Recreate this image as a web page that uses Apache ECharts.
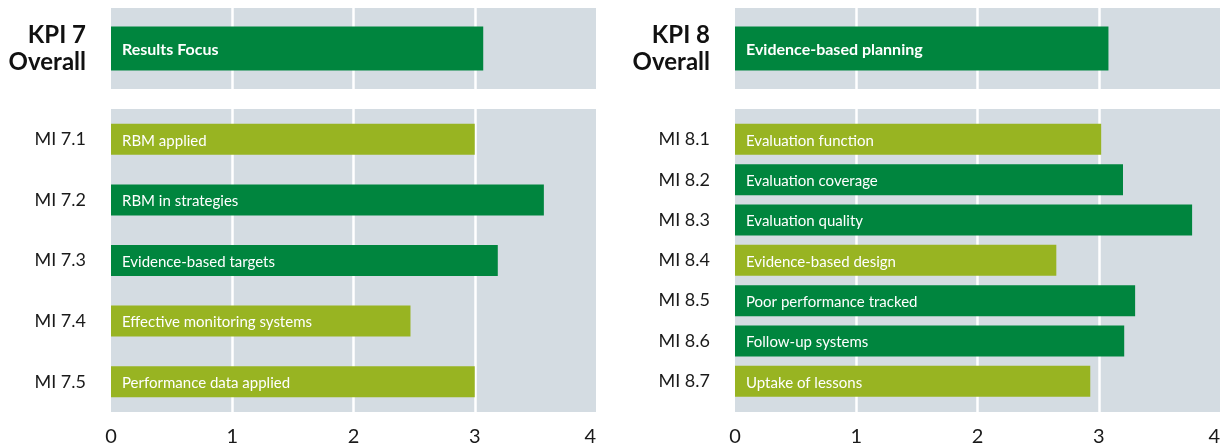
<!DOCTYPE html>
<html>
<head>
<meta charset="utf-8">
<script src="https://cdn.jsdelivr.net/npm/echarts@6/dist/echarts.min.js"></script>
<style>
html,body{margin:0;padding:0;background:#fff;}
#chart{width:1228px;height:448px;}
</style>
</head>
<body>
<div id="chart"></div>
<script>
// ---- data ----
const xTickValues = [0, 1, 2, 3, 4];

const kpi7Category = ['KPI 7\nOverall'];
const kpi7Label = ['Results Focus'];
const kpi7Value = [3.07];

const mi7Category = ['MI 7.1', 'MI 7.2', 'MI 7.3', 'MI 7.4', 'MI 7.5'];
const mi7Label = ['RBM applied', 'RBM in strategies', 'Evidence-based targets', 'Effective monitoring systems', 'Performance data applied'];
const mi7Value = [3.0, 3.57, 3.19, 2.47, 3.0];
const mi7Strong = [false, true, true, false, false];

const kpi8Category = ['KPI 8\nOverall'];
const kpi8Label = ['Evidence-based planning'];
const kpi8Value = [3.08];

const mi8Category = ['MI 8.1', 'MI 8.2', 'MI 8.3', 'MI 8.4', 'MI 8.5', 'MI 8.6', 'MI 8.7'];
const mi8Label = ['Evaluation function', 'Evaluation coverage', 'Evaluation quality', 'Evidence-based design', 'Poor performance tracked', 'Follow-up systems', 'Uptake of lessons'];
const mi8Value = [3.02, 3.20, 3.77, 2.65, 3.30, 3.21, 2.93];
const mi8Strong = [false, true, true, false, true, true, false];

// ---- styles ----
const GREY = '#d4dce2';
const DARK = '#00853e';
const LIGHT = '#98b422';
const FONT = 'Lato, "Liberation Sans", sans-serif';
const TEXT = '#1a1a1a';

const xMin = xTickValues[0], xMax = xTickValues[xTickValues.length - 1];

function xAxis(gridIndex, showLabels, showSplit) {
  return {
    type: 'value', gridIndex, min: xMin, max: xMax, interval: 1,
    axisLine: {show: false}, axisTick: {show: false},
    axisLabel: {show: showLabels, fontSize: 20, color: TEXT, fontFamily: FONT, margin: 15, alignMaxLabel: 'right'},
    splitLine: {show: showSplit, showMinLine: false, showMaxLine: false, lineStyle: {color: '#ffffff', width: 2.5}}
  };
}
function catAxis(gridIndex, data, kpi) {
  return {
    type: 'category', gridIndex, data, inverse: true,
    axisLine: {show: false}, axisTick: {show: false}, splitLine: {show: false},
    axisLabel: kpi
      ? {fontSize: 24, fontWeight: 'bold', lineHeight: 27, color: '#111', fontFamily: FONT, margin: 25, align: 'right', padding: [4, 0, 0, 0]}
      : {fontSize: 18, color: TEXT, fontFamily: FONT, margin: 25, align: 'right', padding: [5, 0, 0, 0]}
  };
}
function barSeries(xi, yi, values, labels, strong, barWidth, kpi) {
  return {
    type: 'bar', xAxisIndex: xi, yAxisIndex: yi, data: values, barWidth,
    itemStyle: {color: p => (strong ? (strong[p.dataIndex] ? DARK : LIGHT) : DARK)},
    label: {
      show: true, position: 'insideLeft', distance: 11, color: '#fff', fontFamily: FONT,
      fontSize: kpi ? 16 : 15, fontWeight: kpi ? 'bold' : 'normal', offset: [0, 1.5],
      formatter: p => labels[p.dataIndex]
    },
    silent: true, animation: false
  };
}

const gridBase = {show: true, backgroundColor: GREY, borderWidth: 0};
const option = {
  animation: false,
  grid: [
    Object.assign({left: 111, top: 8, width: 485, height: 81}, gridBase),
    Object.assign({left: 111, top: 109, width: 485, height: 303}, gridBase),
    Object.assign({left: 735, top: 8, width: 485, height: 81}, gridBase),
    Object.assign({left: 735, top: 109, width: 485, height: 303}, gridBase),
    {left: 735, top: 119.2, width: 485, height: 282.3, show: false}
  ],
  xAxis: [
    xAxis(0, false, true),
    xAxis(1, true, true),
    xAxis(2, false, true),
    xAxis(3, true, true),
    Object.assign(xAxis(4, false, false), {show: false})
  ],
  yAxis: [
    catAxis(0, kpi7Category, true),
    catAxis(1, mi7Category, false),
    catAxis(2, kpi8Category, true),
    {type: 'value', gridIndex: 3, show: false},
    catAxis(4, mi8Category, false)
  ],
  series: [
    barSeries(0, 0, kpi7Value, kpi7Label, null, 44, true),
    barSeries(1, 1, mi7Value, mi7Label, mi7Strong, 31, false),
    barSeries(2, 2, kpi8Value, kpi8Label, null, 44, true),
    barSeries(4, 4, mi8Value, mi8Label, mi8Strong, 31, false)
  ]
};
const chart = echarts.init(document.getElementById('chart'), null, {renderer: 'canvas'});
chart.setOption(option);
</script>
</body>
</html>
